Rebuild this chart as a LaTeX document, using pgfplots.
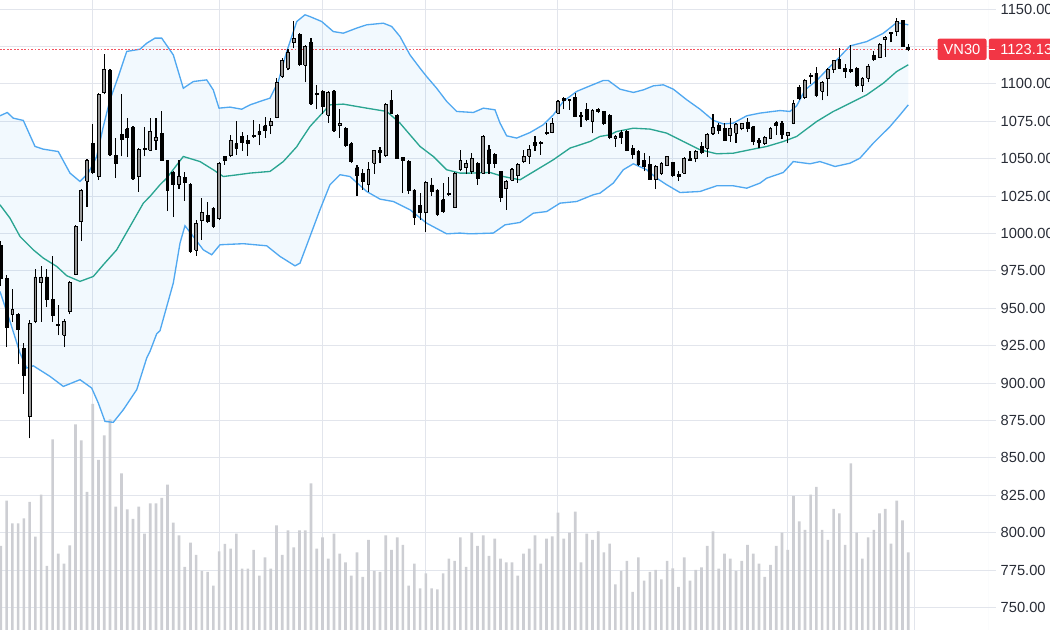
\documentclass[border=0pt]{standalone}
\usepackage{fontspec}
\setmainfont{Liberation Sans}
\usepackage{pgfplots}
\pgfplotsset{compat=1.18}
\usepackage{pgfplotstable}
\usepgfplotslibrary{fillbetween}

\definecolor{gridc}{RGB}{226,229,236}
\definecolor{bbblue}{RGB}{80,168,240}
\definecolor{bbmidc}{RGB}{42,165,145}
\definecolor{bbfill}{RGB}{33,150,243}
\definecolor{volc}{RGB}{205,206,211}
\definecolor{upfill}{RGB}{150,150,150}
\definecolor{tvred}{RGB}{242,54,69}
\definecolor{lbl}{RGB}{40,44,54}

% i open high low close volume(px)
\pgfplotstableread{
i o h l c v
0 992 995 965 970 84
1 970 972 924 937 129.3
2 946 963 941 949 106.7
3 946 947 913 936 106.7
4 923 927 893 905 111.7
5 878 942 863 940 128
6 941 976 940 971 93.3
7 967 978 941 971 135.3
8 971 976 951 956 64
9 956 985 941 945 190.7
10 939.5 952 932 938.5 76.3
11 932 943 924 941 66.3
12 948 968 946 967 84.7
13 973 1006 972 1005 205.7
14 1008 1030 995 1029 189.7
15 1035 1050 1018 1049 138
16 1060 1073 1040 1041 226
17 1038 1094 1036 1093 170
18 1094 1120 1093 1110 194.7
19 1109 1110 1052 1053 210.7
20 1052 1064 1037 1047 123.3
21 1066 1093 1051.5 1063 156.7
22 1070 1077 1051 1064 120.7
23 1071 1072 1036 1037 111
24 1038 1057 1028 1056 123.3
25 1056 1071 1051.5 1057 96.3
26 1055.5 1077 1055 1068 126.7
27 1062 1077 1056 1064 126.7
28 1067 1082 1049 1049 132
29 1049 1049 1015 1029 145.3
30 1041 1042 1011 1033 107.3
31 1033 1049 1030 1038 94.7
32 1037.5 1041 1022 1034 63
33 1033 1034 987 988 87.3
34 989 1009 985 1007 75
35 1009 1024 996 1014 59
36 1012 1021 1007 1008 58
37 1017 1018 1004 1005 44.3
38 1010 1048 1009 1047 78.7
39 1051.5 1052 1046 1049 86
40 1052 1066 1051 1062 81.3
41 1060 1075 1052.5 1057 96.3
42 1065 1068 1055 1061 61.3
43 1062 1066 1052 1060 61.3
44 1065.5 1076 1064 1065 80
45 1068 1073 1059 1066 54.3
46 1072 1078 1064 1069 72.7
47 1072 1077 1066.5 1075 61.3
48 1077.5 1104 1077 1101 104.7
49 1105 1117 1104 1115.5 75
50 1110.5 1123.5 1109 1121 99.7
51 1128 1142 1124 1130.5 82.7
52 1133 1134 1112 1113 99.7
53 1112.5 1126 1101 1125 99.7
54 1128 1131 1086 1087 146.7
55 1093.5 1099 1083 1093 81.3
56 1095 1096 1080 1085 92.7
57 1079 1095 1074 1094 71.3
58 1095 1096 1068 1069 96.3
59 1072.5 1083 1064 1073.5 76.3
60 1070 1071 1058 1059 67.7
61 1060 1061 1047 1048 54.3
62 1044 1046 1025 1039 77.7
63 1040 1043 1029 1035 53
64 1033 1048 1028 1043 90
65 1047 1056 1040 1055.5 59
66 1055.5 1058 1047 1054 58
67 1052 1087 1051 1086.5 94.7
68 1089 1096 1080 1080 80
69 1079 1080 1050 1050 92.7
70 1051 1051 1027 1049 85
71 1048 1049 1026.5 1029 44.3
72 1029 1030 1006 1011 66.3
73 1019 1027 1009 1014 41.7
74 1014 1035 1001 1034 56.7
75 1032.5 1037 1025 1028 41.7
76 1029 1030 1012 1013 40.7
77 1022.5 1034 1014 1015 56.7
78 1026 1038 1025 1027 71.3
79 1017.6 1041 1017 1040 69
80 1042.6 1056 1041.5 1048.8 92.7
81 1044 1049 1040 1047 63
82 1041.5 1054 1040 1050 97.3
83 1047 1048 1032.5 1037 84
84 1040.4 1066 1040 1065 94.7
85 1056 1059 1040 1046.6 74
86 1053 1054 1044 1046.6 91.3
87 1041.5 1042 1021 1024 71.3
88 1030 1036 1016 1035 67.7
89 1035.5 1044 1035 1043 67.7
90 1039 1047 1034 1046 54.3
91 1048 1056 1047 1051.5 76.3
92 1051.5 1059 1046.6 1056.4 81.3
93 1061 1065 1055 1058.6 94.7
94 1060 1062 1052.6 1061 66.3
95 1067.5 1074 1066 1066.8 91.3
96 1067.5 1077 1067 1073.8 93.7
97 1080.4 1089 1080 1088.3 117.3
98 1090.5 1091 1083 1089 91.3
99 1089.8 1090 1082.7 1088.9 97.3
100 1091 1094 1078 1078 118.3
101 1079 1081 1071 1078.5 67.7
102 1082.7 1087 1075 1076 96.3
103 1075 1083 1067 1082 90
104 1083.1 1084 1080.4 1081.5 98.7
105 1081.5 1082 1072.6 1073.8 77.7
106 1079 1080 1063 1064 86.3
107 1063.7 1066 1058 1065 45.7
108 1067.5 1069 1060 1064 59
109 1068 1069 1055 1055.5 69
110 1057 1059 1050 1053 38
111 1055 1056 1045 1046 72.7
112 1049 1054 1041.5 1045 49.3
113 1046 1051.5 1036 1036.3 58
114 1036 1046 1029.6 1045 60
115 1040.4 1048 1039 1046.6 50.7
116 1045.3 1052 1045 1051.5 69
117 1047.5 1048 1038 1038.6 61.7
118 1039.2 1042 1035 1038 43
119 1040.4 1051 1040 1050 72.7
120 1050 1055 1048.7 1049 49.3
121 1050.4 1056 1047.5 1054.8 60
122 1058 1061.5 1053 1054 62.7
123 1057 1067 1051 1066 84
124 1066.6 1080 1066 1071 98.7
125 1072.6 1074 1066.6 1069 61.3
126 1070.4 1074 1062 1062.2 76.3
127 1065.3 1077 1061.5 1070.4 71.3
128 1067 1074 1060.4 1073 59
129 1070.4 1074 1069 1073.3 69
130 1074 1077 1068 1070.4 85
131 1071.5 1072 1059 1061.5 76.3
132 1062.2 1064 1057 1061 66.3
133 1060.4 1065 1059.3 1064.2 53
134 1063.3 1071 1063 1070.4 65
135 1074 1075 1066 1072.6 84
136 1073.8 1075 1063 1066 97.3
137 1065.3 1068 1060.4 1067.5 80
138 1073.8 1089.4 1073 1086.7 134
139 1097.8 1099 1089 1090.5 108.7
140 1091 1103 1090 1102.3 100
141 1104.9 1107 1100 1106 135.3
142 1107 1111 1091 1092 143
143 1095 1102 1089 1101 100
144 1103.8 1110.5 1091.6 1109.8 90
145 1109.8 1116 1107.6 1115.6 121
146 1116.5 1124 1110 1110.5 116.7
147 1110.5 1113 1104 1108.3 85
148 1109.4 1126 1107.6 1108.3 166.7
149 1110.5 1111 1098 1098.7 97.3
150 1098.7 1104.5 1094.9 1103.8 71.3
151 1103.8 1113 1101 1112 92.7
152 1119 1122.3 1115.6 1116.5 100
153 1117.6 1127.2 1117 1126.5 116.7
154 1129.5 1132 1118 1131.2 121
155 1134.4 1135 1127.7 1133.5 86.3
156 1135 1144 1132 1141.7 129.3
157 1142.4 1143 1125 1125.4 109.7
158 1124.5 1126.8 1121.7 1123.13 77.7
}\ohlc

\pgfplotstableread{
x y
-0.16 1078.7
1.11 1080.9
2.16 1077.1
3.90 1075.6
5.94 1058.2
7.38 1056.4
9.99 1054.8
12.03 1040.4
13.77 1034.8
15.22 1040.4
16.68 1051.5
17.83 1071.5
19.00 1089.4
20.44 1104.9
21.91 1121.7
24.22 1123.2
25.39 1127.2
26.83 1130.6
28.00 1130.6
30.02 1119.4
31.76 1097.1
33.50 1101.6
35.83 1102.7
36.98 1096
37.98 1083.8
39.89 1084.5
41.93 1083.1
43.38 1086
45.12 1088.3
46.86 1090.5
48.30 1101.6
49.77 1121.7
51.51 1141.7
52.95 1146.2
53.82 1145.0
55.86 1141.7
57.88 1135
59.62 1133.9
61.95 1137.3
63.69 1139.5
66.59 1140.6
68.05 1138.4
69.49 1131.7
71.23 1119.4
72.98 1110.5
74.14 1104.9
75.88 1097.1
77.62 1088.3
79.37 1081.6
82.26 1080.9
84.00 1083.8
86.03 1082.7
86.91 1073.8
88.07 1065.3
89.81 1063.8
92.13 1067.5
94.44 1072.7
96.19 1079.3
97.93 1088.3
100.26 1095
102.58 1098.7
104.89 1102.3
105.76 1102.3
107.80 1096.5
110.12 1094.3
111.86 1096
113.60 1098.7
115.34 1099.4
117.08 1096.5
119.42 1089.4
121.73 1083.1
124.05 1075.6
125.79 1073.3
127.53 1073.8
129.87 1078.7
132.18 1080.5
135.66 1082.2
137.40 1081.6
138.57 1085.4
140.02 1096
142.05 1102.3
144.37 1111.6
146.11 1118.3
147.85 1125.4
150.76 1128.3
153.66 1133.9
155.98 1141
158.00 1139.5
}\bbup

\pgfplotstableread{
x y
-0.16 1019.2
1.58 1010.3
3.33 998
5.64 989.1
7.38 983.6
9.72 978
11.46 971.8
13.77 968
16.09 971.3
17.83 979.1
20.16 989.1
22.48 1004.7
24.80 1020.3
25.96 1024.8
27.70 1032.6
28.87 1037
31.76 1051.5
34.67 1048.1
36.98 1042.6
38.73 1038.1
41.06 1039.2
43.38 1040.4
46.86 1041.5
49.17 1048.1
51.51 1058
52.08 1061.5
53.82 1071.5
54.40 1074
57.30 1086
59.62 1086.5
63.69 1083.8
67.18 1081.6
69.49 1073.8
72.98 1058.2
75.29 1051.5
77.62 1042.6
79.94 1040.4
81.68 1040.4
85.17 1040.8
87.48 1038.1
90.39 1035.9
93.30 1042.6
96.19 1049.3
99.10 1057.1
102.58 1061.5
104.32 1064.9
106.06 1066
107.23 1068.2
110.12 1070.4
113.03 1069.8
115.93 1067.1
118.82 1061.5
121.73 1056
124.64 1053.3
127.53 1053.7
130.44 1056
133.35 1058.2
136.24 1061.5
138.57 1064.9
142.05 1074.9
144.95 1081.6
147.85 1087.1
150.76 1092.7
153.66 1100.5
155.98 1108.3
158.00 1112.8
}\bbmid

\pgfplotstableread{
x y
-0.16 961.3
1.58 941.3
3.33 920.1
4.49 910.1
5.64 911.6
8.55 904.5
10.87 897.8
13.77 902.3
15.81 896.7
16.96 886.7
18.13 874.4
19.57 873.8
21.31 882.2
23.65 895.6
25.39 916.8
25.96 921.2
27.13 933
27.70 935
30.02 966.9
31.19 993.6
32.05 1005.2
33.50 998
35.24 989.1
36.71 985.8
38.15 992.5
42.21 993.2
46.28 991.8
48.60 984.7
51.21 978.4
52.08 980.2
53.82 998
55.56 1015.9
57.30 1032.6
59.05 1039.3
60.79 1038.1
63.69 1028.1
66.01 1023
68.33 1021.4
71.23 1015.9
74.14 1006.9
77.62 999.8
79.94 1000.3
81.68 999.8
85.74 1000.3
87.78 1005.8
90.39 1007.4
92.71 1013.6
95.04 1014.7
97.36 1020.3
100.26 1021.4
103.15 1025.9
104.32 1027
106.63 1033.7
108.37 1042.6
110.12 1046.6
112.45 1042.6
114.19 1037
115.93 1032.6
118.25 1027.4
121.73 1028.1
124.64 1031.9
127.53 1031.9
129.87 1030.3
132.18 1033.7
133.35 1037
136.24 1040.8
137.98 1048.1
140.89 1046.6
142.63 1048.1
145.24 1044.8
147.85 1047
149.59 1050.4
151.91 1060.4
154.82 1071.5
156.56 1079.3
158.00 1086
}\bblow

% build candle paths from the OHLC table
\pgfplotstablegetrowsof{\ohlc}
\pgfmathtruncatemacro\lastrow{\pgfplotsretval-1}
\gdef\wickpath{}
\gdef\uppath{}
\gdef\dnpath{}
\foreach \k in {0,...,\lastrow}{%
  \pgfplotstablegetelem{\k}{i}\of\ohlc\let\Ci\pgfplotsretval
  \pgfplotstablegetelem{\k}{o}\of\ohlc\let\Co\pgfplotsretval
  \pgfplotstablegetelem{\k}{h}\of\ohlc\let\Ch\pgfplotsretval
  \pgfplotstablegetelem{\k}{l}\of\ohlc\let\Cl\pgfplotsretval
  \pgfplotstablegetelem{\k}{c}\of\ohlc\let\Cc\pgfplotsretval
  \pgfmathsetmacro\Xa{\Ci-0.25}%
  \pgfmathsetmacro\Xb{\Ci+0.25}%
  \xdef\wickpath{\wickpath (\Ci,\Cl) (\Ci,\Ch) (\Ci,nan)}%
  \ifdim\Cc pt<\Co pt
    \xdef\dnpath{\dnpath (\Xa,\Co) (\Xb,\Co) (\Xb,\Cc) (\Xa,\Cc) (\Xa,\Co) (\Ci,nan)}%
  \else
    \xdef\uppath{\uppath (\Xa,\Co) (\Xb,\Co) (\Xb,\Cc) (\Xa,\Cc) (\Xa,\Co) (\Ci,nan)}%
  \fi
}

\begin{document}
\begin{tikzpicture}
\pgfplotsset{base/.style={scale only axis, width=741pt, height=472.5pt,
  at={(0,0)}, anchor=south west, xmin=-0.157, xmax=171.88}}
% grid, band fill, price scale
\begin{axis}[base, ymin=735, ymax=1156.1,
  xtick={16,38,56,74,97,117,137,159}, xticklabels={},
  ytick={750,775,800,825,850,875,900,925,950,975,1000,1025,1050,1075,1100,1125,1150},
  yticklabels={750.00,775.00,800.00,825.00,850.00,875.00,900.00,925.00,950.00,975.00,1000.00,1025.00,1050.00,1075.00,1100.00,{},1150.00},
  grid=major, grid style={gridc, line width=0.75pt},
  axis line style={draw=none},
  ytick pos=right, yticklabel pos=right,
  tick align=outside, major tick length=6pt,
  x tick style={draw=none}, y tick style={gridc, line width=0.75pt},
  yticklabel style={anchor=west, xshift=0pt, font=\fontsize{11}{13}\selectfont, text=lbl}]
\addplot[draw=none, name path=U] table[x=x,y=y]{\bbup};
\addplot[draw=none, name path=L] table[x=x,y=y]{\bblow};
\addplot[bbfill, fill opacity=0.06, draw=none] fill between[of=U and L];
\draw[gridc, line width=0.75pt] (rel axis cs:1,0) -- (rel axis cs:1,1);
\end{axis}
% volume
\begin{axis}[base, ymin=0, ymax=630, hide axis]
\addplot[ybar, bar width=2pt, bar shift=0pt, fill=volc, draw=none] table[x=i,y=v]{\ohlc};
\end{axis}
% bands and candles
\begin{axis}[base, ymin=735, ymax=1156.1, hide axis, unbounded coords=jump]
\addplot[bbblue, line width=1pt, mark=none] table[x=x,y=y]{\bbup};
\addplot[bbblue, line width=1pt, mark=none] table[x=x,y=y]{\bblow};
\addplot[bbmidc, line width=1pt, mark=none] table[x=x,y=y]{\bbmid};
\addplot[tvred!85, line width=0.9pt, dash pattern=on 1.3pt off 1.3pt, mark=none] coordinates {(-0.157,1123.13) (163.2,1123.13)};
\edef\tmp{\noexpand\addplot[black, line width=0.85pt, mark=none] coordinates {\wickpath};}\tmp
\edef\tmp{\noexpand\addplot[draw=black, fill=upfill, line width=0.6pt, mark=none] coordinates {\uppath};}\tmp
\edef\tmp{\noexpand\addplot[draw=black, fill=black, line width=0.6pt, mark=none] coordinates {\dnpath};}\tmp
\coordinate (lp) at (axis cs:171.88,1123.13);
\end{axis}
\node[fill=tvred, text=white, rounded corners=1.5pt, minimum width=36.75pt, minimum height=16pt, inner sep=0pt, anchor=east, font=\fontsize{11}{13}\selectfont] at ([xshift=-0.9pt]lp) {VN30};
\node[fill=tvred, text=white, rounded corners=1.5pt, minimum height=16pt, inner ysep=0pt, inner xsep=8.6pt, anchor=west, font=\fontsize{11}{13}\selectfont] at ([xshift=0.4pt]lp) {1123.13};
\draw[white, line width=0.75pt] ([xshift=0.9pt]lp) -- ([xshift=5pt]lp);
\pgfresetboundingbox
\useasboundingbox (0,0) rectangle (787.5pt,472.5pt);
\end{tikzpicture}
\end{document}
